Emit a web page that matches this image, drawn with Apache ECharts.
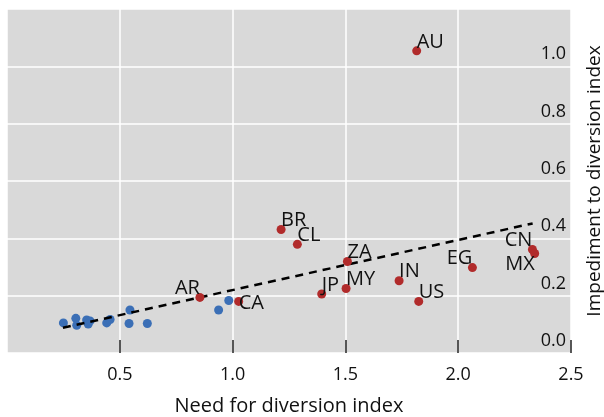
<!DOCTYPE html>
<html>
<head>
<meta charset="utf-8">
<title>Need vs impediment</title>
<script type="text/javascript" src="https://cdn.jsdelivr.net/npm/echarts@6/dist/echarts.min.js"></script>
<style>
  html, body { margin: 0; padding: 0; background: #fff; }
  #chart { width: 604px; height: 417px; }
</style>
</head>
<body>
<div id="chart"></div>
<script type="text/javascript">
    // labelled countries (red)
    var countries = ['AU', 'BR', 'CL', 'ZA', 'JP', 'MY', 'AR', 'CA', 'IN', 'US', 'EG', 'CN', 'MX'];
    var needRed   = [1.816, 1.215, 1.287, 1.509, 1.395, 1.503, 0.855, 1.027, 1.738, 1.825, 2.063, 2.329, 2.339];
    var impedRed  = [1.054, 0.431, 0.379, 0.319, 0.206, 0.225, 0.194, 0.180, 0.252, 0.180, 0.298, 0.361, 0.347];

    // other countries (blue, no label)
    var needBlue  = [0.250, 0.305, 0.309, 0.353, 0.360, 0.368, 0.442, 0.457, 0.545, 0.541, 0.622, 0.938, 0.983];
    var impedBlue = [0.105, 0.121, 0.097, 0.115, 0.101, 0.112, 0.105, 0.117, 0.150, 0.103, 0.103, 0.150, 0.183];

    // fitted trend line end points
    var trendX = [0.248, 2.33];
    var trendY = [0.088, 0.452];

    var xTicks = [0, 0.5, 1.0, 1.5, 2.0, 2.5];
    var yTicks = [0, 0.2, 0.4, 0.6, 0.8, 1.0, 1.2];

    // where each label sits relative to its dot (default: right, above)
    var labelPlace = {
        AR: ['right', 'bottom'],
        EG: ['right', 'bottom'],
        CN: ['right', 'bottom'],
        MX: ['right', 'top'],
        CA: ['left', 'middle']
    };

    var font = '"Open Sans", "Noto Sans", sans-serif';

    var redData = countries.map(function(c, i) {
        var p = labelPlace[c] || ['left', 'bottom'];
        return {
            name: c,
            value: [needRed[i], impedRed[i]],
            label: {
                align: p[0],
                verticalAlign: p[1],
                offset: p[1] == 'middle' ? [0, 2] : [0, 1]
            }
        };
    });
    var blueData = needBlue.map(function(v, i) { return [v, impedBlue[i]]; });
    var trendData = trendX.map(function(v, i) { return [v, trendY[i]]; });

    var option = {
        backgroundColor: '#ffffff',
        animation: false,
        grid: {
            left: 7, top: 9, right: 33, bottom: 64,
            outerBoundsMode: 'none',
            containLabel: false,
            show: true,
            backgroundColor: '#d9d9d9',
            borderWidth: 0
        },
        xAxis: {
            type: 'value',
            min: xTicks[0],
            max: xTicks[xTicks.length - 1],
            interval: 0.5,
            name: 'Need for diversion index',
            nameLocation: 'middle',
            nameGap: 43,
            nameTextStyle: { fontFamily: font, fontSize: 20, color: '#111' },
            axisLine: { show: false },
            axisTick: { show: true, inside: true, length: 13, lineStyle: { color: '#222', width: 1.5 } },
            axisLabel: {
                showMinLabel: false,
                margin: 13,
                fontFamily: font, fontSize: 18, color: '#111',
                formatter: function(v) { return v.toFixed(1); }
            },
            splitLine: { show: true, lineStyle: { color: '#ffffff', width: 1.5 } }
        },
        yAxis: {
            type: 'value',
            position: 'right',
            min: yTicks[0],
            max: yTicks[yTicks.length - 1],
            interval: 0.2,
            name: 'Impediment to diversion index',
            nameLocation: 'middle',
            nameGap: 14,
            nameTextStyle: { fontFamily: font, fontSize: 19, color: '#111' },
            axisLine: { show: false },
            axisTick: { show: false },
            axisLabel: {
                inside: true,
                showMaxLabel: false,
                margin: 5,
                verticalAlign: 'bottom',
                padding: [0, 0, 3, 0],
                fontFamily: font, fontSize: 18, color: '#111',
                formatter: function(v) { return v.toFixed(1); }
            },
            splitLine: { show: true, lineStyle: { color: '#ffffff', width: 1.5 } }
        },
        series: [
            {
                type: 'line',
                data: trendData,
                symbol: 'none',
                lineStyle: { color: '#000', width: 2.5, type: [8, 6] },
                z: 3
            },
            {
                type: 'scatter',
                data: blueData,
                symbolSize: 9,
                itemStyle: { color: '#3b6fb6', opacity: 1 },
                z: 2
            },
            {
                type: 'scatter',
                data: redData,
                symbolSize: 9,
                itemStyle: { color: '#b12b2b', opacity: 1 },
                label: {
                    show: true,
                    position: 'inside',
                    formatter: '{b}',
                    fontFamily: font, fontSize: 20, color: '#111'
                },
                z: 4
            }
        ]
    };

    var chart = echarts.init(document.getElementById('chart'));
    chart.setOption(option);
</script>
</body>
</html>
